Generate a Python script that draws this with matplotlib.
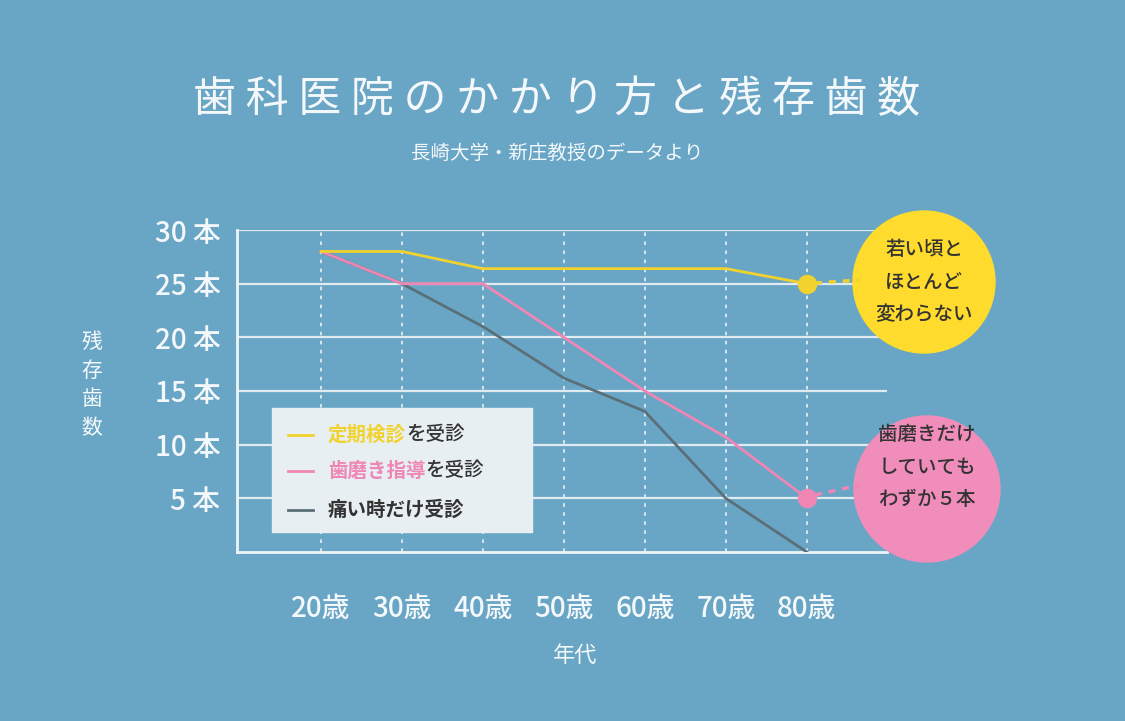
import matplotlib
matplotlib.use("Agg")
import matplotlib.pyplot as plt
from matplotlib.patches import Circle, Rectangle

plt.rcParams["font.family"] = "Noto Sans CJK JP"

ages = [20, 30, 40, 50, 60, 70, 80]
age_labels = ["20歳", "30歳", "40歳", "50歳", "60歳", "70歳", "80歳"]
checkup = [28, 28, 26.4, 26.4, 26.4, 26.4, 25]
brushing = [28, 25, 25, 20, 15, 10.7, 5]
pain_only = [28, 25, 21, 16.2, 13.1, 5, 0]
y_ticks = [5, 10, 15, 20, 25, 30]
y_labels = ["5 本", "10 本", "15 本", "20 本", "25 本", "30 本"]

BG = "#69a6c6"
YEL = "#f2d22e"
PINK = "#ef86b4"
GRAY = "#5b6f79"
TXT = "#f4f8fb"

W, H = 1125, 721
fig = plt.figure(figsize=(W / 100, H / 100), dpi=100, facecolor=BG)

ax = fig.add_axes([237 / W, 1 - 552 / H, 650 / W, 322 / H])
ax.set_facecolor(BG)
ax.set_xlim(9.63, 89.9)
ax.set_ylim(0, 30)
for y in y_ticks:
    ax.axhline(y, color="#dfeaf1", lw=1.6, zorder=1)
for x in ages:
    ax.axvline(x, color="#dfeaf1", lw=1.3, ls=(0, (2, 3)), zorder=1)
for s in ["top", "right"]:
    ax.spines[s].set_visible(False)
for s in ["left", "bottom"]:
    ax.spines[s].set_color("#eef4f8")
    ax.spines[s].set_linewidth(2)
ax.set_yticks(y_ticks)
ax.set_yticklabels(y_labels, fontsize=20, color=TXT, fontweight="medium")
ax.set_xticks(ages)
ax.set_xticklabels(age_labels, fontsize=20, color=TXT, fontweight="medium")
ax.tick_params(length=0, pad=12)
ax.tick_params(axis="x", pad=30)

ax.plot(ages, pain_only, color=GRAY, lw=2, zorder=3)
ax.plot(ages, brushing, color=PINK, lw=2, zorder=3)
ax.plot(ages, checkup, color=YEL, lw=2, zorder=3)
ax.plot([ages[-1]], [checkup[-1]], "o", color=YEL, ms=13, zorder=4, clip_on=False)
ax.plot([ages[-1]], [brushing[-1]], "o", color=PINK, ms=13, zorder=4, clip_on=False)

# overlay in pixel coordinates
ov = fig.add_axes([0, 0, 1, 1], facecolor="none")
ov.set_xlim(0, W)
ov.set_ylim(H, 0)
ov.axis("off")

ov.plot([815, 860], [283, 280], color=YEL, lw=2.5, ls=(0, (2, 2)))
ov.plot([815, 860], [495, 485], color=PINK, lw=2.5, ls=(0, (2, 2)))
ov.add_patch(Circle((924, 282), 71, color="#fedb2c"))
ov.add_patch(Circle((927, 489), 73, color="#f08dba"))
ov.text(924, 282, "若い頃と\nほとんど\n変わらない", ha="center", va="center",
        fontsize=14, color="#333333", linespacing=1.9, fontweight="medium")
ov.text(927, 467, "歯磨きだけ\nしていても\nわずか５本", ha="center", va="center",
        fontsize=14, color="#333333", linespacing=1.9, fontweight="medium")

ov.text(557, 100, "歯 科 医 院 の か か り 方 と 残 存 歯 数", ha="center", va="center",
        fontsize=31, color=TXT)
ov.text(557, 153, "長崎大学・新庄教授のデータより", ha="center", va="center",
        fontsize=14, color=TXT)
ov.text(92, 385, "残\n存\n歯\n数", ha="center", va="center", fontsize=15,
        color=TXT, linespacing=1.4)
ov.text(575, 655, "年代", ha="center", va="center", fontsize=16, color=TXT)

# legend box
ov.add_patch(Rectangle((272, 408), 260, 124, color="#e8eff3", zorder=5))
legend = [(YEL, "定期検診", "を受診", 435), (PINK, "歯磨き指導", "を受診", 471), (GRAY, "痛い時だけ受診", "", 510)]
for col, a, b, y in legend:
    ov.plot([288, 313], [y, y], color=col, lw=2, zorder=6)
    tcol = col if col != GRAY else "#333333"
    t = ov.text(328, y, a, color=tcol, fontsize=14, fontweight="bold", va="center", zorder=6)
    if b:
        fig.canvas.draw()
        bb = t.get_window_extent()
        ov.text(328 + bb.width, y, b, color="#333333", fontsize=14, fontweight="medium",
                va="center", zorder=6)

fig.savefig("out.png", dpi=100, facecolor=BG)
